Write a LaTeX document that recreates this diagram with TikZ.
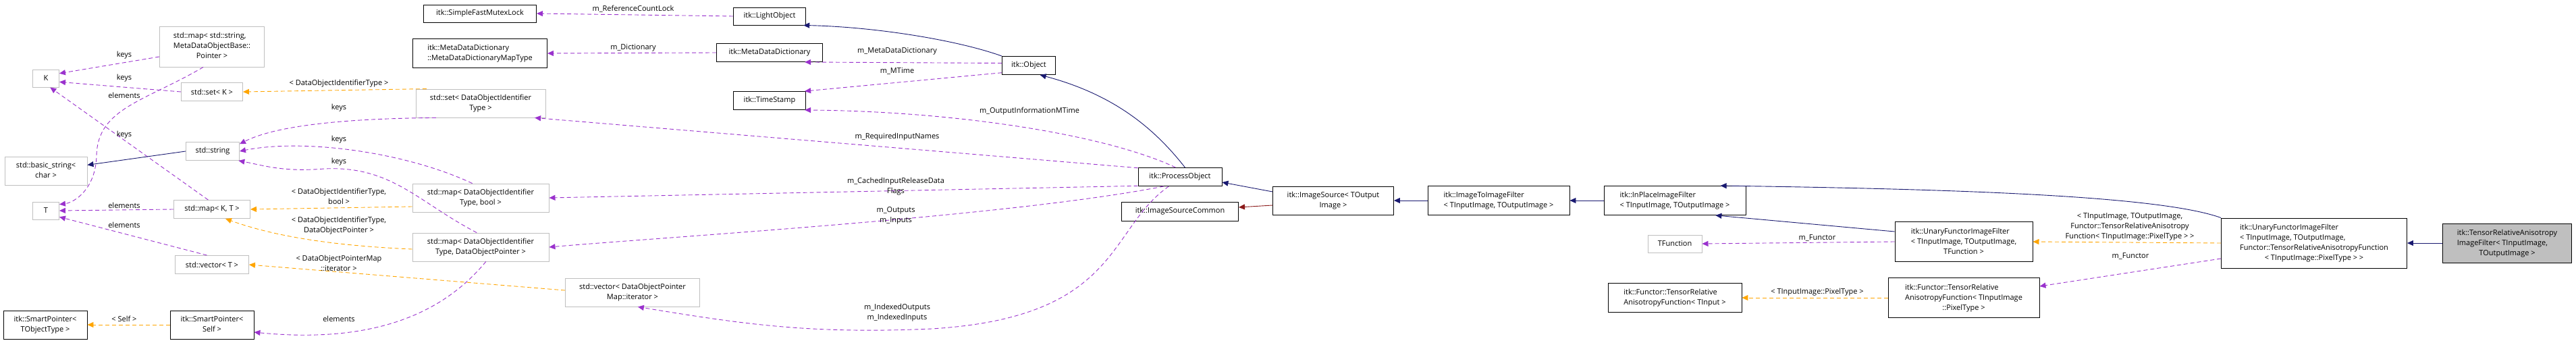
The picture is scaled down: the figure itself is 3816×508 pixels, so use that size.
\documentclass[tikz,border=0pt]{standalone}
\usepackage{fontspec}
\setmainfont{Open Sans}
\usetikzlibrary{arrows.meta}
\definecolor{navy}{HTML}{191970}
\definecolor{purp}{HTML}{9A32CD}
\definecolor{orng}{HTML}{FFA500}
\definecolor{dred}{HTML}{8B1A1A}
\definecolor{gb}{HTML}{BFBFBF}
\newcommand\twoln[2]{\begin{tabular}{@{}l@{}}#1\\\multicolumn{1}{@{}c@{}}{#2}\end{tabular}}
\begin{document}
\begin{tikzpicture}[x=1pt,y=-1pt,
  base/.style={draw=black,fill=white,line width=0.9pt,inner sep=2pt,align=center,font=\fontsize{11}{15}\selectfont},
  gbox/.style={base,draw=gb},
  lbl/.style={font=\fontsize{11}{15}\selectfont,align=center,inner sep=1pt},
  tip/.style={-{Triangle[length=9pt,width=8pt]}},
  inh/.style={tip,draw=navy,line width=0.9pt},
  use/.style={tip,draw=purp,dash pattern=on 6pt off 4pt,line width=0.9pt},
  tpl/.style={tip,draw=orng,dash pattern=on 6pt off 4pt,line width=0.9pt},
  red/.style={tip,draw=dred,line width=0.9pt}]
\useasboundingbox (0,0) rectangle (3816,508);
% nodes
\node[gbox,minimum width=39,minimum height=26] (K) at (68,116) {K};
\node[gbox,minimum width=155,minimum height=60] (mapS) at (314,69) {\begin{tabular}{@{}l@{}}std::map< std::string,\\MetaDataObjectBase::\\\multicolumn{1}{@{}c@{}}{Pointer >}\end{tabular}};
\node[gbox,minimum width=91,minimum height=27] (setK) at (314,136) {std::set< K >};
\node[gbox,minimum width=122,minimum height=42] (bstr) at (68,253) {\twoln{std::basic\_string<}{char >}};
\node[gbox,minimum width=79,minimum height=27] (str) at (315,224) {std::string};
\node[gbox,minimum width=39,minimum height=26] (T) at (68,312) {T};
\node[gbox,minimum width=113,minimum height=27] (mapKT) at (314,310) {std::map< K, T >};
\node[gbox,minimum width=109,minimum height=27] (vecT) at (314,392) {std::vector< T >};
\node[base,minimum width=124,minimum height=42] (spT) at (67,481) {\twoln{itk::SmartPointer<}{TObjectType >}};
\node[base,minimum width=124,minimum height=42] (spS) at (314,481) {\twoln{itk::SmartPointer<}{Self >}};
\node[base,minimum width=167,minimum height=26] (mutex) at (711,20) {itk::SimpleFastMutexLock};
\node[base,minimum width=199,minimum height=43] (mdmt) at (711,79) {\twoln{itk::MetaDataDictionary}{::MetaDataDictionaryMapType}};
\node[gbox,minimum width=192,minimum height=42] (setD) at (712,153) {\twoln{std::set< DataObjectIdentifier}{Type >}};
\node[gbox,minimum width=202,minimum height=42] (mapB) at (712,293) {\twoln{std::map< DataObjectIdentifier}{Type, bool >}};
\node[gbox,minimum width=202,minimum height=42] (mapP) at (712,366) {\twoln{std::map< DataObjectIdentifier}{Type, DataObjectPointer >}};
\node[gbox,minimum width=199,minimum height=42] (vecI) at (937,433) {\twoln{std::vector< DataObjectPointer}{Map::iterator >}};
\node[base,minimum width=107,minimum height=26] (light) at (1140,24) {itk::LightObject};
\node[base,minimum width=157,minimum height=27] (mdd) at (1140,78) {itk::MetaDataDictionary};
\node[base,minimum width=107,minimum height=27] (ts) at (1140,149) {itk::TimeStamp};
\node[base,minimum width=79,minimum height=27] (obj) at (1524,97) {itk::Object};
\node[base,minimum width=124,minimum height=27] (po) at (1748,262) {itk::ProcessObject};
\node[base,minimum width=173,minimum height=28] (isc) at (1748,313) {itk::ImageSourceCommon};
\node[base,minimum width=179,minimum height=42] (is) at (1975,297) {\twoln{itk::ImageSource< TOutput}{Image >}};
\node[base,minimum width=210,minimum height=43] (i2i) at (2220,297) {\twoln{itk::ImageToImageFilter}{< TInputImage, TOutputImage >}};
\node[base,minimum width=210,minimum height=43] (ip) at (2481,297) {\twoln{itk::InPlaceImageFilter}{< TInputImage, TOutputImage >}};
\node[gbox,minimum width=80,minimum height=26] (tf) at (2481,361) {TFunction};
\node[base,minimum width=198,minimum height=43] (fti) at (2481,441) {\twoln{itk::Functor::TensorRelative}{AnisotropyFunction< TInput >}};
\node[base,minimum width=204,minimum height=59] (uf) at (2909,358) {\begin{tabular}{@{}l@{}}itk::UnaryFunctorImageFilter\\< TInputImage, TOutputImage,\\\multicolumn{1}{@{}c@{}}{TFunction >}\end{tabular}};
\node[base,minimum width=224,minimum height=59] (ftp) at (2909,441) {\begin{tabular}{@{}l@{}}itk::Functor::TensorRelative\\AnisotropyFunction< TInputImage\\\multicolumn{1}{@{}c@{}}{::PixelType >}\end{tabular}};
\node[base,minimum width=275,minimum height=74] (uft) at (3428,360) {\begin{tabular}{@{}l@{}}itk::UnaryFunctorImageFilter\\< TInputImage, TOutputImage,\\Functor::TensorRelativeAnisotropyFunction\\\multicolumn{1}{@{}c@{}}{< TInputImage::PixelType > >}\end{tabular}};
\node[base,fill=gb,minimum width=191,minimum height=58] (tra) at (3714,360) {\begin{tabular}{@{}l@{}}itk::TensorRelativeAnisotropy\\ImageFilter< TInputImage,\\\multicolumn{1}{@{}c@{}}{TOutputImage >}\end{tabular}};
% edges left
\draw[use] (mapS.west|-0,84) -- (K.20);
\draw[use] (setK.west) -- (K.-15);
\draw[use] (mapS.247) .. controls (215,150) and (145,160) .. (143,230) .. controls (142,280) and (110,300) .. (T.25);
\draw[use] (mapKT.112) -- (K.-65);
\draw[inh] (str.west) -- (bstr.8);
\draw[use] (mapKT.west) -- (T.east);
\draw[use] (vecT.118) -- (T.-25);
\draw[tpl] (setD.165) -- (setK.east);
\draw[use] (setD.198) .. controls (560,175) and (420,180) .. (str.15);
\draw[use] (mapB.120) .. controls (600,225) and (450,205) .. (str.east);
\draw[use] (mapP.105) .. controls (620,300) and (580,245) .. (480,250) .. controls (420,255) and (390,245) .. (str.-20);
\draw[tpl] (mapB.west|-0,306) -- (mapKT.east);
\draw[tpl] (mapP.west|-0,369) .. controls (520,365) and (420,355) .. (mapKT.-35);
\draw[tpl] (vecI.west|-0,430) -- (vecT.east);
\draw[use] (mapP.-70) .. controls (660,460) and (560,510) .. (spS.-10);
\draw[tpl] (spS.west) -- (spT.east);
% middle
\draw[use] (mdd.west) -- (mdmt.east);
\draw[use] (light.west) -- (mutex.east);
\draw[inh] (obj.north west) .. controls (1420,60) and (1300,40) .. (light.-15);
\draw[use] (obj.175) -- (mdd.-15);
\draw[use] (obj.-165) -- (ts.15);
\draw[use] (po.115) .. controls (1640,200) and (1420,165) .. (ts.-15);
\draw[use] (po.168) -- (setD.-15);
\draw[use] (po.192) -- (mapB.east);
\draw[use] (po.-150) .. controls (1500,320) and (1000,350) .. (mapP.east);
\draw[use] (po.-140) .. controls (1640,340) and (1660,470) .. (1380,487) .. controls (1200,495) and (1100,480) .. (vecI.-70);
\draw[inh] (po.62) .. controls (1710,190) and (1650,140) .. (obj.-40);
\draw[inh] (is.west|-0,284) -- (po.east|-0,270);
\draw[red] (is.west|-0,304) -- (isc.east|-0,307);
\draw[inh] (i2i.west) -- (is.east);
\draw[inh] (ip.west) -- (i2i.east);
\draw[inh] (uf.north west|-0,343) -- (ip.-20);
\draw[inh] (uft.north west) .. controls (3200,290) and (2900,280) .. (ip.18);
\draw[tpl] (uft.west) -- (uf.east);
\draw[use] (uft.west|-0,383) -- (ftp.east|-0,424);
\draw[use] (uf.west) -- (tf.east);
\draw[tpl] (ftp.west) -- (fti.east);
\draw[inh] (tra.west) -- (uft.east);
% labels
\node[lbl] (l1) at (184,82) {keys};
\node[lbl] (l2) at (184,116) {keys};
\node[lbl] (l3) at (184,141) {elements};
\node[lbl] (l4) at (184,200) {keys};
\node[lbl] (l6) at (184,304) {elements};
\node[lbl] (l7) at (184,333) {elements};
\node[lbl] (l8) at (502,124) {< DataObjectIdentifierType >};
\node[lbl] (l9) at (502,160) {keys};
\node[lbl] (l10) at (502,207) {keys};
\node[lbl] (l11) at (502,240) {keys};
\node[lbl] (l12) at (502,291) {< DataObjectIdentifierType,\\bool >};
\node[lbl] (l13) at (502,334) {< DataObjectIdentifierType,\\DataObjectPointer >};
\node[lbl] (l14) at (502,390) {< DataObjectPointerMap\\::iterator >};
\node[lbl] (l15) at (502,472) {elements};
\node[lbl] (l16) at (184,472) {< Self >};
\node[lbl] (l17) at (938,71) {m\_Dictionary};
\node[lbl] (l18) at (938,13) {m\_ReferenceCountLock};
\node[lbl] (l20) at (1329,76) {m\_MetaDataDictionary};
\node[lbl] (l21) at (1329,105) {m\_MTime};
\node[lbl] (l22) at (1525,165) {m\_OutputInformationMTime};
\node[lbl] (l23) at (1329,203) {m\_RequiredInputNames};
\node[lbl] (l24) at (1327,276) {m\_CachedInputReleaseData\\Flags};
\node[lbl] (l25) at (1327,319) {m\_Outputs\\m\_Inputs};
\node[lbl] (l26) at (1329,463) {m\_IndexedOutputs\\m\_IndexedInputs};
\node[lbl] (l34) at (3155,336) {< TInputImage, TOutputImage,\\Functor::TensorRelativeAnisotropy\\Function< TInputImage::PixelType > >};
\node[lbl] (l35) at (3156,379) {m\_Functor};
\node[lbl] (l36) at (2692,352) {m\_Functor};
\node[lbl] (l37) at (2692,433) {< TInputImage::PixelType >};
\end{tikzpicture}
\end{document}
